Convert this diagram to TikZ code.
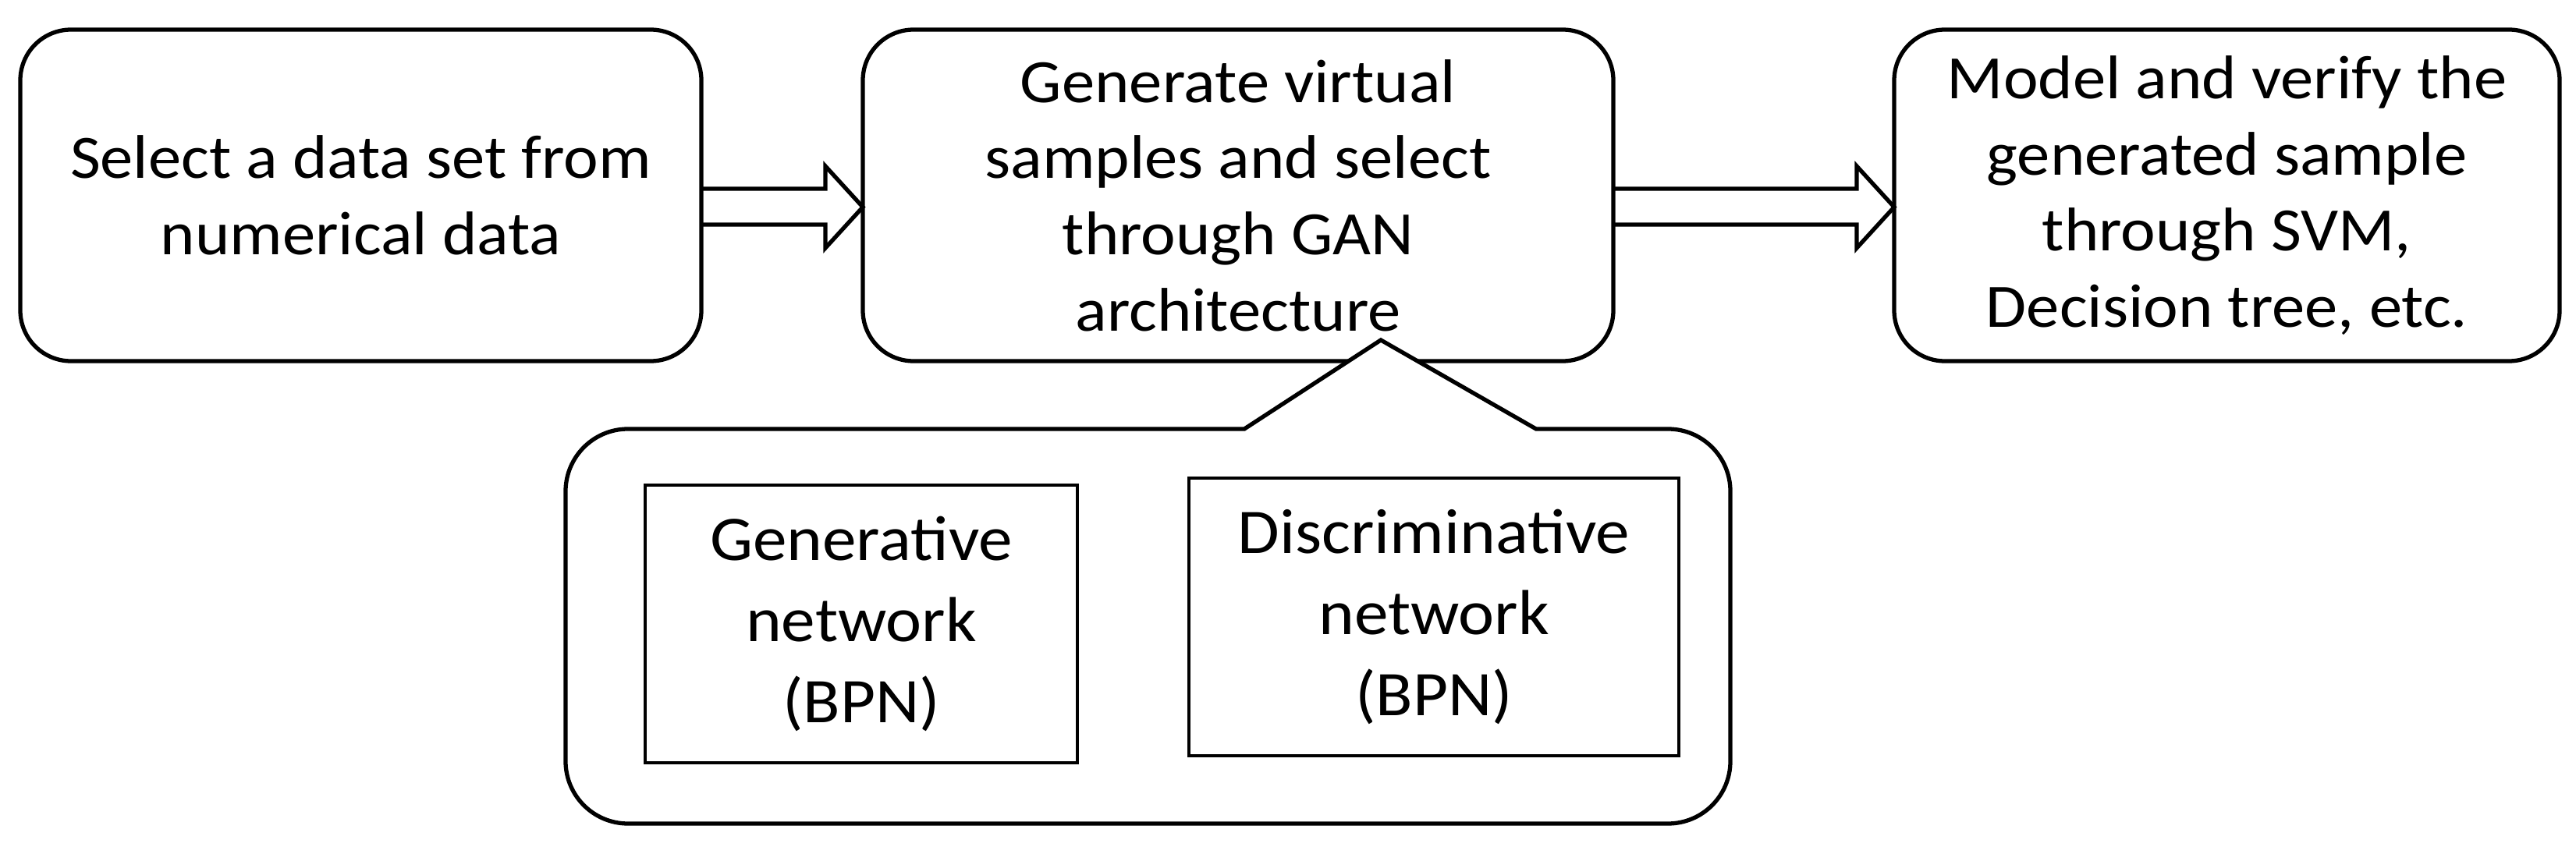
\documentclass[tikz,border=0pt]{standalone}
\usepackage{fontspec}
\setmainfont[FakeStretch=1.07]{Carlito}
\usepackage{tikz}
\usetikzlibrary{positioning,calc}
\newcommand{\hollowarrow}[2]{%
	\draw[hollow] ($(#1.east)+(0,0.085)$) -- ($(#2.west)+(-0.48,0.085)$) -- ($(#2.west)+(-0.48,0.375)$)
		-- ($(#2.west)+(0,-0.15)$) -- ($(#2.west)+(-0.48,-0.675)$) -- ($(#2.west)+(-0.48,-0.375)$)
		-- ($(#1.east)+(0,-0.375)$);}

\begin{document}
\begin{tikzpicture}[
		stage/.style={draw, line width=1.5pt, rounded corners=0.65cm, align=center, outer sep=0pt,
			minimum height=4.25cm, inner sep=0pt, font=\fontsize{22.5}{27.8}\selectfont},
		net/.style={draw, line width=1.3pt, align=center, outer sep=0pt, minimum height=3.56cm,
			inner sep=0pt, font=\fontsize{23.2}{29.5}\selectfont},
		hollow/.style={line width=1.5pt, line join=miter},
		callout/.style={draw, line width=1.5pt, fill=white}
	]
	\useasboundingbox (0,0) rectangle (33.02,-10.86);
	
	\node[stage, minimum width=8.73cm] (select) at (4.625,-2.505) {Select a data set from\\numerical data};
	\node[stage, minimum width=9.62cm, right=2.07cm of select] (gan) {Generate virtual\\samples and select\\through GAN\\architecture};
	\node[stage, minimum width=8.53cm, right=3.60cm of gan] (model) {Model and verify the\\generated sample\\through SVM,\\Decision tree, etc.};
	
	\hollowarrow{select}{gan}
	\hollowarrow{gan}{model}
	
	\coordinate (tip) at (17.70,-4.36);
	\draw[callout] (15.95,-5.50) -- (tip) -- (19.69,-5.50) -- (21.38,-5.50)
		arc[start angle=90, end angle=0, radius=0.8] -- (22.18,-9.76)
		arc[start angle=0, end angle=-90, radius=0.8] -- (8.05,-10.56)
		arc[start angle=270, end angle=180, radius=0.8] -- (7.25,-6.30)
		arc[start angle=180, end angle=90, radius=0.8] -- cycle;
	
	\node[net, minimum width=5.54cm] (gen) at (11.04,-8.00) {Generative\\network\\(BPN)};
	\node[net, minimum width=6.28cm] (disc) at (18.38,-7.91) {Discriminative\\network\\(BPN)};
\end{tikzpicture}
\end{document}
